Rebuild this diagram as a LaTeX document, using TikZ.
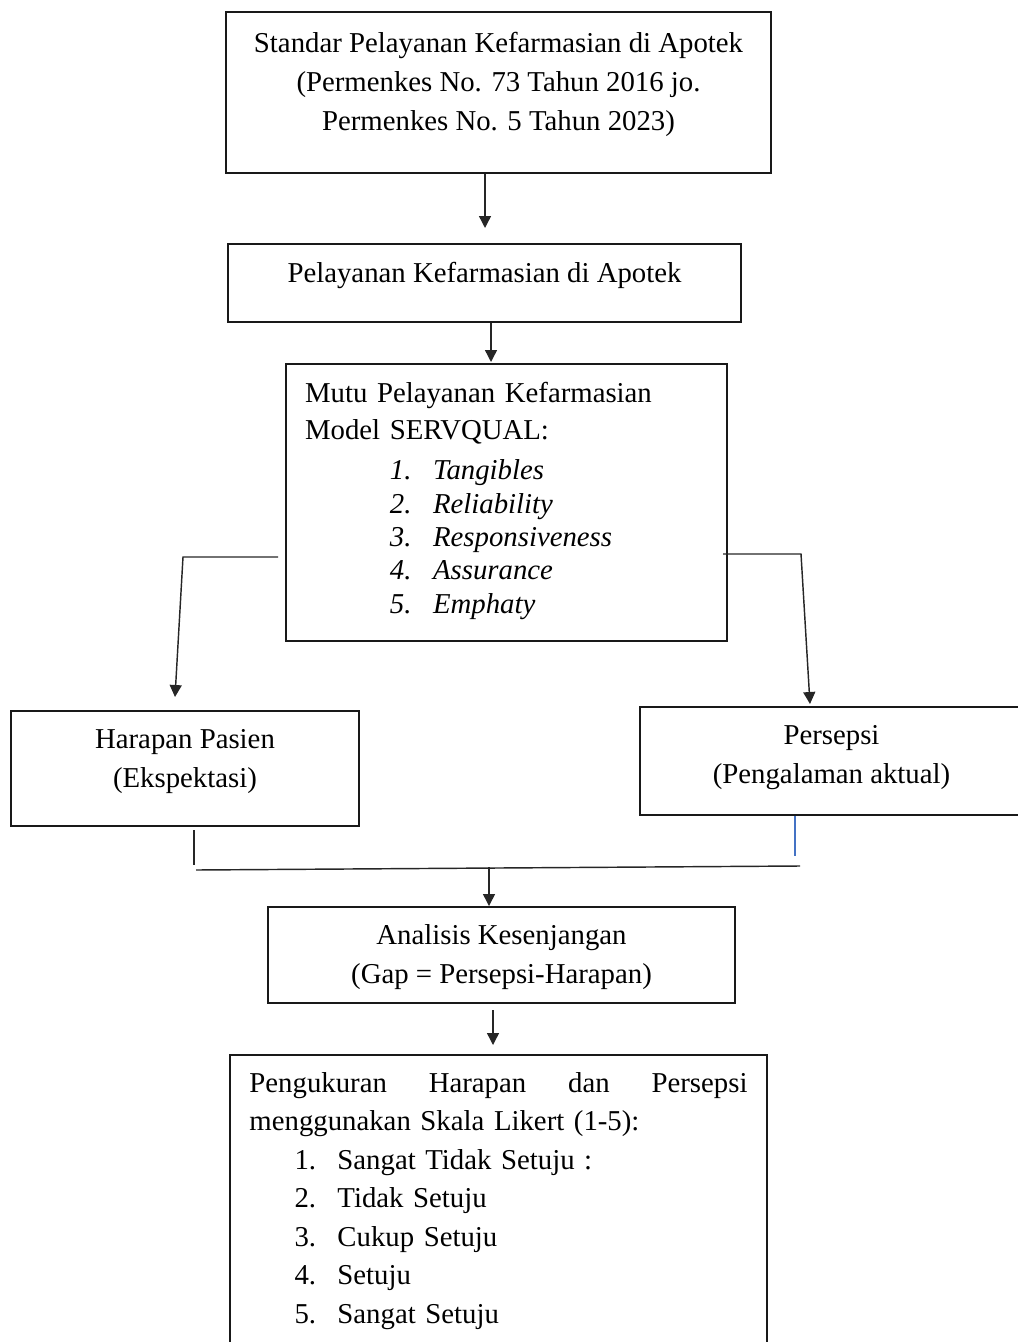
\documentclass[tikz,border=0pt]{standalone}
\usepackage{fontspec}
\setmainfont{Liberation Serif}
\usepackage{tikz}
\usetikzlibrary{arrows.meta}
\usepackage{xcolor}
\definecolor{garisbiru}{RGB}{68,114,196}
\tikzstyle{panah} = [line width=0.6pt,->,>={Triangle[length=5pt,width=5pt]},color=black!85]
\tikzstyle{garis} = [line width=0.6pt,color=black!85]
\tikzstyle{kotak} = [rectangle, draw=black!90, line width=0.85pt, align=center, inner sep=0pt]

\begin{document}
\begin{tikzpicture}[x=0.417pt, y=-0.417pt, font=\fontsize{12}{16.3}\selectfont]
\useasboundingbox (0,0) rectangle (1017,1342);

% Kotak utama
\node (standar) [kotak, minimum width=227.3pt, minimum height=67.1pt, text depth=9.3pt] at (498.5,92.5) {Standar Pelayanan Kefarmasian di Apotek\\(Permenkes No. 73 Tahun 2016 jo.\\Permenkes No. 5 Tahun 2023)};
\node (pelayanan) [kotak, minimum width=213.9pt, minimum height=32.5pt, text depth=8.5pt] at (484.5,283) {Pelayanan Kefarmasian di Apotek};
\node (mutu) [kotak, align=left, text width=168pt, minimum width=183.9pt, minimum height=115.5pt, text depth=91.6pt] at (506.5,502.5) {Mutu Pelayanan Kefarmasian\\[-0.9pt]Model SERVQUAL:\\[0.4pt]\hspace*{35.4pt}\makebox[18pt][l]{\itshape 1.}\textit{Tangibles}\\[-2.4pt]\hspace*{35.4pt}\makebox[18pt][l]{\itshape 2.}\textit{Reliability}\\[-2.4pt]\hspace*{35.4pt}\makebox[18pt][l]{\itshape 3.}\textit{Responsiveness}\\[-2.4pt]\hspace*{35.4pt}\makebox[18pt][l]{\itshape 4.}\textit{Assurance}\\[-2.4pt]\hspace*{35.4pt}\makebox[18pt][l]{\itshape 5.}\textit{Emphaty}};

% Harapan dan persepsi
\node (harapan) [kotak, minimum width=145.1pt, minimum height=48pt, text depth=8.4pt] at (185,768.5) {Harapan Pasien\\(Ekspektasi)};
\node (persepsi) [kotak, minimum width=159.7pt, minimum height=45pt, text depth=5.5pt] at (831.5,761) {Persepsi\\(Pengalaman aktual)};

% Analisis dan pengukuran
\node (analisis) [kotak, minimum width=194.7pt, minimum height=40pt, text depth=0.6pt] at (501.5,955) {Analisis Kesenjangan\\(Gap = Persepsi-Harapan)};
\node (ukur) [kotak, anchor=north, align=left, text width=207.7pt, minimum width=223.9pt, inner ysep=7.2pt, text depth=112pt] at (498.5,1054) {\makebox[207.7pt][l]{Pengukuran\hfill Harapan\hfill dan\hfill Persepsi}\\[-0.25pt]menggunakan Skala Likert (1-5):\\[-0.25pt]\hspace*{18.8pt}\makebox[17.9pt][l]{1.}Sangat Tidak Setuju :\\[-0.25pt]\hspace*{18.8pt}\makebox[17.9pt][l]{2.}Tidak Setuju\\[-0.25pt]\hspace*{18.8pt}\makebox[17.9pt][l]{3.}Cukup Setuju\\[-0.25pt]\hspace*{18.8pt}\makebox[17.9pt][l]{4.}Setuju\\[-0.25pt]\hspace*{18.8pt}\makebox[17.9pt][l]{5.}Sangat Setuju};

% Titik bantu
\coordinate (u1) at (485,228);
\coordinate (u2) at (491,362);
\coordinate (kiri1) at (278,557);
\coordinate (kiri2) at (183,557);
\coordinate (kiri3) at (175,697);
\coordinate (kanan1) at (723,554);
\coordinate (kanan2) at (801,554);
\coordinate (kanan3) at (810,704);
\coordinate (h1) at (194,830);
\coordinate (h2) at (194,865);
\coordinate (p1) at (795,856);
\coordinate (g1) at (196,870);
\coordinate (g2) at (800,866);
\coordinate (g3) at (489,867);
\coordinate (a1) at (493,1010);
\coordinate (a2) at (493,1045);

% Panah
\draw[panah] (standar.south -| u1) -- (u1);
\draw[panah] (pelayanan.south -| u2) -- (u2);
\draw[panah] (kiri1) -- (kiri2) -- (kiri3);
\draw[panah] (kanan1) -- (kanan2) -- (kanan3);
\draw[garis] (h1) -- (h2);
\draw[line width=0.6pt, garisbiru] (persepsi.south -| p1) -- (p1);
\draw[garis] (g1) -- (g2);
\draw[panah] (g3) -- (analisis.north -| g3);
\draw[panah] (a1) -- (a2);
\end{tikzpicture}
\end{document}
